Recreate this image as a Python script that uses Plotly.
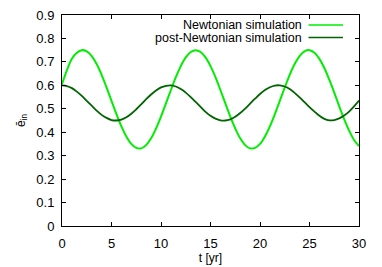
import plotly.graph_objects as go

t_yr = [0.0, 0.5, 1.0, 1.5, 2.0, 2.5, 3.0, 3.5, 4.0, 4.5, 5.0, 5.5, 6.0, 6.5, 7.0, 7.5,
        8.0, 8.5, 9.0, 9.5, 10.0, 10.5, 11.0, 11.5, 12.0, 12.5, 13.0, 13.5, 14.0, 14.5,
        15.0, 15.5, 16.0, 16.5, 17.0, 17.5, 18.0, 18.5, 19.0, 19.5, 20.0, 20.5, 21.0,
        21.5, 22.0, 22.5, 23.0, 23.5, 24.0, 24.5, 25.0, 25.5, 26.0, 26.5, 27.0, 27.5,
        28.0, 28.5, 29.0, 29.5, 30.0]

newtonian = [0.605, 0.665, 0.713, 0.739, 0.750, 0.745, 0.725, 0.691, 0.645, 0.591,
             0.534, 0.477, 0.425, 0.382, 0.350, 0.333, 0.331, 0.345, 0.374, 0.416,
             0.467, 0.523, 0.580, 0.635, 0.682, 0.719, 0.742, 0.750, 0.742, 0.719,
             0.682, 0.635, 0.580, 0.523, 0.467, 0.416, 0.374, 0.345, 0.331, 0.333,
             0.350, 0.382, 0.425, 0.477, 0.534, 0.591, 0.645, 0.691, 0.725, 0.745,
             0.750, 0.739, 0.713, 0.674, 0.624, 0.569, 0.511, 0.456, 0.407, 0.367,
             0.341]

post_newtonian = [0.600, 0.597, 0.588, 0.573, 0.555, 0.534, 0.513, 0.492, 0.474, 0.461,
                  0.452, 0.450, 0.454, 0.464, 0.479, 0.498, 0.519, 0.541, 0.561, 0.578,
                  0.591, 0.598, 0.600, 0.595, 0.584, 0.569, 0.550, 0.529, 0.508, 0.487,
                  0.470, 0.458, 0.451, 0.450, 0.455, 0.466, 0.482, 0.501, 0.522, 0.543,
                  0.563, 0.580, 0.592, 0.599, 0.600, 0.595, 0.584, 0.568, 0.549, 0.528,
                  0.507, 0.488, 0.470, 0.457, 0.451, 0.452, 0.459, 0.471, 0.488, 0.510,
                  0.535]

x_ticks = [0, 5, 10, 15, 20, 25, 30]
y_ticks = [0, 0.1, 0.2, 0.3, 0.4, 0.5, 0.6, 0.7, 0.8, 0.9]
y_tick_text = ["0", "0.1", "0.2", "0.3", "0.4", "0.5", "0.6", "0.7", "0.8", "0.9"]

series_names = ["Newtonian simulation", "post-Newtonian simulation"]
series_colors = ["#00ee00", "#006400"]

FONT = "Liberation Sans, Arial, sans-serif"

fig = go.Figure()
fig.add_trace(go.Scatter(x=t_yr, y=newtonian, mode="lines", name=series_names[0],
                         line=dict(color=series_colors[0], width=2, shape="spline"),
                         showlegend=False))
fig.add_trace(go.Scatter(x=t_yr, y=post_newtonian, mode="lines", name=series_names[1],
                         line=dict(color=series_colors[1], width=1.8, shape="spline"),
                         showlegend=False))

# gnuplot-style legend: text right-aligned, sample line to its right
legend_y = [0.953, 0.893]
for name, color, ly in zip(series_names, series_colors, legend_y):
    fig.add_annotation(x=0.815, y=ly, xref="paper", yref="paper", text=name,
                       showarrow=False, xanchor="right", yanchor="middle",
                       font=dict(family=FONT, size=12.5, color="#000000"))
    fig.add_shape(type="line", xref="paper", yref="paper", x0=0.83, x1=0.946,
                  y0=ly, y1=ly, line=dict(color=color, width=1.5))

axis_common = dict(showgrid=False, zeroline=False, showline=True, linecolor="#000000",
                   linewidth=1, mirror="ticks", ticks="inside", ticklen=4,
                   tickcolor="#000000", tickwidth=1, automargin=False,
                   ticklabeloverflow="allow",
                   tickfont=dict(family=FONT, size=13, color="#000000"))

# page body adds an 8px offset, so the figure is sized to fit the window
fig.update_layout(
    width=374, height=259,
    margin=dict(l=54, r=23, t=7, b=41),
    paper_bgcolor="white", plot_bgcolor="white",
    xaxis=dict(range=[0, 30], tickvals=x_ticks, ticklabelstandoff=5,
               title=dict(text="t [yr]", font=dict(family=FONT, size=12, color="#000000"),
                          standoff=4),
               **axis_common),
    yaxis=dict(range=[0, 0.9], tickvals=y_ticks, ticktext=y_tick_text,
               ticklabelstandoff=4,
               title=dict(text="ē<sub>in</sub>", font=dict(family=FONT, size=12, color="#000000"),
                          standoff=8),
               **axis_common),
)

fig.write_html("out.html")
